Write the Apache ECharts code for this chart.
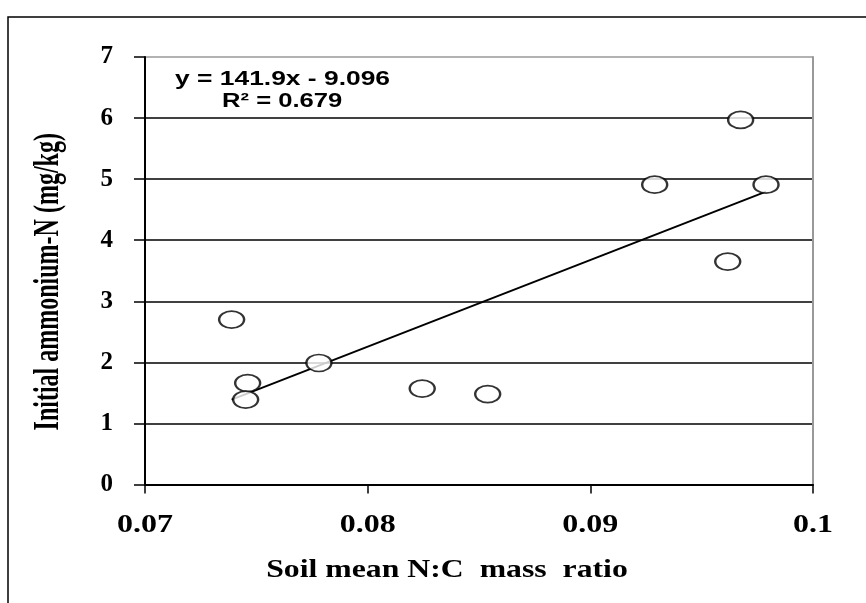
<!DOCTYPE html>
<html><head><meta charset="utf-8">
<script src="https://cdn.jsdelivr.net/npm/echarts@6/dist/echarts.min.js"></script>
<style>html,body{margin:0;padding:0;background:#fff}#c{width:866px;height:603px}</style>
</head><body><div id="c"></div>
<script>
const xValues = [0.07389, 0.07461, 0.07452, 0.07781, 0.08245, 0.08539, 0.09675, 0.09289, 0.09789, 0.09617];
const yValues = [2.70, 1.66, 1.39, 1.99, 1.57, 1.48, 5.97, 4.91, 4.91, 3.65];
const trendSlope = 141.9;
const trendIntercept = -9.096;
const equationLines = ['y = 141.9x - 9.096', 'R² = 0.679'];
const xTicks = [0.07, 0.08, 0.09, 0.1];
const xTickLabels = ['0.07', '0.08', '0.09', '0.1'];
const yTicks = [0, 1, 2, 3, 4, 5, 6, 7];
const xTitle = 'Soil mean N:C  mass  ratio';
const yTitle = 'Initial ammonium-N (mg/kg)';

const points = xValues.map((x, i) => [x, yValues[i]]);
const xmin = Math.min(...xValues), xmax = Math.max(...xValues);
const trend = [[xmin, trendSlope * xmin + trendIntercept], [xmax, trendSlope * xmax + trendIntercept]];

const chart = echarts.init(document.getElementById('c'), null, {renderer: 'canvas'});
const serif = '"Liberation Serif", "Times New Roman", serif';
const sans = '"Liberation Sans", Arial, sans-serif';
chart.setOption({
  animation: false,
  backgroundColor: '#fff',
  grid: {left: 145, right: 53, top: 57, bottom: 118.5},
  xAxis: {
    type: 'value', min: 0.07, max: 0.1, interval: 0.01,
    axisLine: {lineStyle: {color: '#000', width: 2}},
    axisTick: {show: true, inside: false, length: 9, lineStyle: {color: '#000', width: 1.5}},
    splitLine: {show: false},
    axisLabel: {show: false}
  },
  yAxis: [{
    type: 'value', min: 0, max: 7, interval: 1,
    axisLine: {show: true, lineStyle: {color: '#000', width: 2}},
    axisTick: {show: true, length: 11, lineStyle: {color: '#000', width: 1.5}},
    splitLine: {show: true, lineStyle: {color: ['#000','#000','#000','#000','#000','#000','#000','#999'], width: 1.5}},
    axisLabel: {margin: 32, fontFamily: serif, fontWeight: 'bold', fontSize: 25, color: '#000',
      formatter: v => yTicks.includes(v) ? String(v) : ''}
  }, {
    type: 'value', min: 0, max: 7, position: 'right',
    axisLine: {show: true, lineStyle: {color: '#999', width: 2}},
    axisTick: {show: false}, axisLabel: {show: false}, splitLine: {show: false}
  }],
  series: [{
    type: 'line', data: trend, symbol: 'none', z: 3,
    lineStyle: {color: '#000', width: 2}
  }, {
    type: 'scatter', data: points, symbol: 'circle', symbolSize: [25, 17], z: 4,
    itemStyle: {color: '#fff', borderColor: '#000', borderWidth: 2}
  }]
});

// Text placed relative to the axes, computed from the chart's own scales
const x0 = chart.convertToPixel({xAxisIndex: 0}, 0.07);
const x1 = chart.convertToPixel({xAxisIndex: 0}, 0.1);
const y0 = chart.convertToPixel({yAxisIndex: 0}, 0);
const y7 = chart.convertToPixel({yAxisIndex: 0}, 7);
const graphics = [{
  type: 'rect', shape: {x: 8, y: 17, width: 900, height: 620}, silent: true, z: -1,
  style: {fill: 'none', stroke: '#000', lineWidth: 1.5}
}];
xTicks.forEach((t, i) => {
  graphics.push({
    type: 'text', x: chart.convertToPixel({xAxisIndex: 0}, t), y: y0 + 41, scaleX: 1.28, z: 10,
    style: {text: xTickLabels[i], font: 'bold 25px ' + serif, fill: '#000', align: 'center', verticalAlign: 'middle'}
  });
});
graphics.push({
  type: 'text', x: (x0 + x1) / 2 - 32, y: y0 + 86, scaleX: 1.27, z: 10,
  style: {text: xTitle, font: 'bold 25px ' + serif, fill: '#000', align: 'center', verticalAlign: 'middle'}
});
graphics.push({
  type: 'text', x: 49, y: (y0 + y7) / 2 + 11, rotation: Math.PI / 2, scaleY: 1.5, z: 10,
  style: {text: yTitle, font: 'bold 24px ' + serif, fill: '#000', align: 'center', verticalAlign: 'middle'}
});
graphics.push({
  type: 'text', x: x0 + 30, y: y7 + 22, scaleX: 1.32, z: 10,
  style: {text: equationLines[0], font: 'bold 20px ' + sans, fill: '#000', align: 'left', verticalAlign: 'middle'}
});
graphics.push({
  type: 'text', x: x0 + 77, y: y7 + 44, scaleX: 1.28, z: 10,
  style: {text: equationLines[1], font: 'bold 20px ' + sans, fill: '#000', align: 'left', verticalAlign: 'middle'}
});
chart.setOption({graphic: graphics});
</script></body></html>
